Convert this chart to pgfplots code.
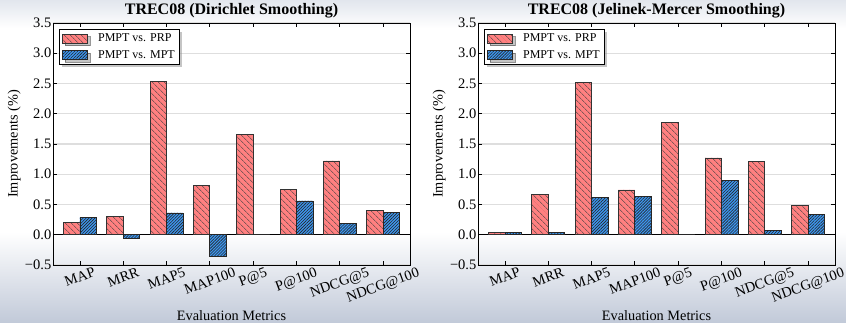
\documentclass[border=0pt]{standalone}
\usepackage{fontspec}
\setmainfont{Liberation Serif}
\usepackage{graphicx}
\usepackage{pgfplots}
\pgfplotsset{compat=1.18}
\usetikzlibrary{patterns.meta,shadows}
\definecolor{barred}{RGB}{255,128,128}
\definecolor{barblue}{RGB}{60,150,240}
\definecolor{bgbot}{RGB}{194,202,217}
\definecolor{bgtop}{RGB}{226,230,237}

\pgfplotsset{
  redbar/.style={ybar, bar width=0.38, bar shift=-0.19, fill=barred, draw=black!80, line width=0.7pt,
    postaction={pattern={Lines[angle=-45,distance=4pt,line width=0.6pt]}, pattern color=black!75},
    legend image code/.code={\draw[##1] (0pt,-4.5pt) rectangle (25pt,4.5pt);}},
  bluebar/.style={ybar, bar width=0.38, bar shift=0.19, fill=barblue, draw=black!85, line width=0.7pt,
    postaction={pattern={Lines[angle=45,distance=2.1pt,line width=0.6pt]}, pattern color=black!85},
    legend image code/.code={\draw[##1] (0pt,-4.5pt) rectangle (25pt,4.5pt);}},
  trecaxis/.style={
    scale only axis, width=357pt, height=242pt, anchor=south west,
    xmin=-0.62, xmax=7.62, ymin=-0.5, ymax=3.5,
    xtick={0,1,2,3,4,5,6,7},
    xticklabels={\rotatebox{20}{MAP},\rotatebox{20}{MRR},\rotatebox{20}{MAP5},\rotatebox{20}{MAP100},\rotatebox{20}{P@5},\rotatebox{20}{P@100},\rotatebox{20}{NDCG@5},\rotatebox{20}{NDCG@100}},
    ytick={-0.5,0,0.5,1,1.5,2,2.5,3,3.5},
    yticklabels={−0.5,0.0,0.5,1.0,1.5,2.0,2.5,3.0,3.5},
    tick align=inside, major tick length=4pt,
    tick style={black, line width=0.7pt},
    axis line style={black, line width=0.9pt},
    ymajorgrids, major grid style={black!13, line width=1.3pt},
    extra y ticks={0}, extra y tick labels={},
    extra y tick style={grid=major, major grid style={black, line width=0.9pt}},
    tick label style={font=\fontsize{14.5}{16}\selectfont},
    xticklabel style={anchor=north, inner sep=2pt},
    yticklabel style={inner sep=1.5pt},
    label style={font=\fontsize{14.3}{17}\selectfont},
    title style={font=\bfseries\fontsize{16}{19}\selectfont, at={(axis description cs:0.5,1)}, anchor=base, yshift=3pt},
    xlabel style={at={(axis description cs:0.5,0)}, anchor=base, yshift=-55pt},
    ylabel style={at={(axis description cs:-0.109,0.5)}, anchor=center, rotate=0},
    xlabel={Evaluation Metrics}, ylabel={Improvements (\%)},
    legend cell align=left,
    legend style={at={(axis description cs:0.0168,0.975)}, anchor=north west,
      draw=black, line width=0.8pt, fill=white,
      font=\fontsize{12}{14}\selectfont,
      inner xsep=3pt, inner ysep=2.5pt, row sep=3pt,
      drop shadow={shadow xshift=2.5pt, shadow yshift=-2.5pt, fill=black!45},
      /tikz/every odd column/.append style={column sep=8pt}},
  }
}

\begin{document}
\begin{tikzpicture}[x=1pt,y=1pt]
\useasboundingbox (0,0) rectangle (846,322);
\fill[white] (0,0) rectangle (846,322);
\shade[top color=white, bottom color=bgbot] (0,0) rectangle (846,90);
\shade[top color=bgtop, bottom color=white] (0,294) rectangle (846,322);

\begin{axis}[trecaxis, at={(53pt,57pt)}, title={TREC08 (Dirichlet Smoothing)}]
\addplot[redbar] coordinates {(0,0.21) (1,0.30) (2,2.53) (3,0.82) (4,1.66) (5,0.755) (6,1.22) (7,0.40)};
\addplot[bluebar] coordinates {(0,0.29) (1,-0.06) (2,0.36) (3,-0.35) (4,0.0) (5,0.56) (6,0.19) (7,0.375)};
\legend{PMPT vs. PRP, PMPT vs. MPT}
\end{axis}

\begin{axis}[trecaxis, at={(478pt,57pt)}, title={TREC08 (Jelinek-Mercer Smoothing)}]
\addplot[redbar] coordinates {(0,0.044) (1,0.66) (2,2.52) (3,0.74) (4,1.86) (5,1.27) (6,1.21) (7,0.49)};
\addplot[bluebar] coordinates {(0,0.044) (1,0.033) (2,0.62) (3,0.64) (4,0.0) (5,0.90) (6,0.07) (7,0.33)};
\legend{PMPT vs. PRP, PMPT vs. MPT}
\end{axis}
\end{tikzpicture}
\end{document}
